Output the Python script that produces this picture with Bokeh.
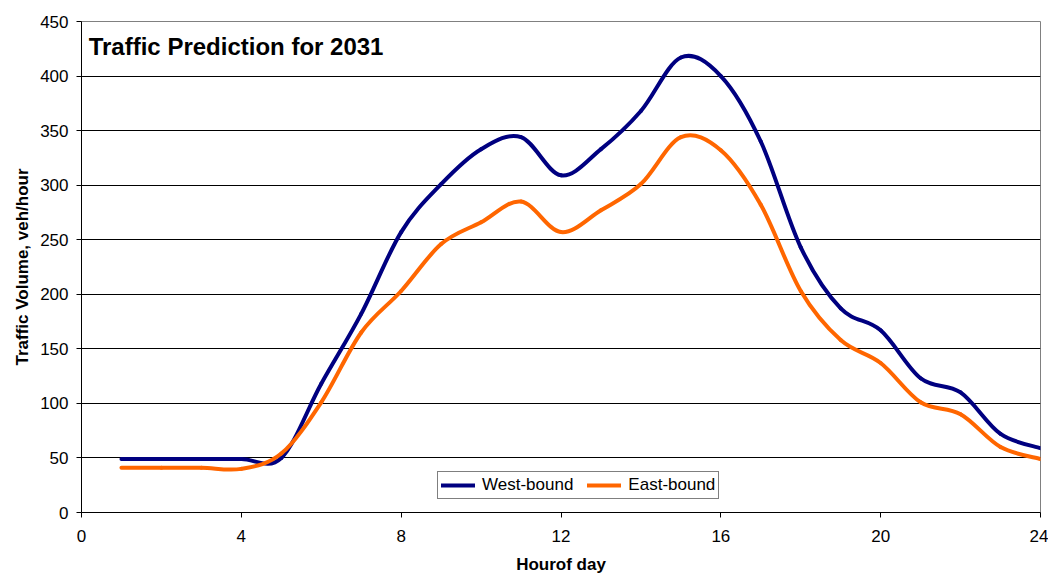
from bokeh.plotting import figure
from bokeh.models import Range1d, FixedTicker, Legend, LegendItem, Label, ColumnDataSource
from bokeh.embed import file_html
from bokeh.resources import INLINE

hours = list(range(1, 25))
west = [49, 49, 49, 49, 50, 118, 182, 257, 301, 333, 344, 309,
        333, 368, 417, 400, 340, 243, 187, 167, 123, 110, 72, 59]
east = [41, 41, 41, 40, 54, 101, 165, 203, 246, 266, 285, 257,
        277, 301, 344, 332, 282, 203, 158, 137, 101, 90, 60, 49]
x_ticks = [0, 4, 8, 12, 16, 20, 24]
y_ticks = [0, 50, 100, 150, 200, 250, 300, 350, 400, 450]
title_text = "Traffic Prediction for 2031"
x_label = "Hourof day"
y_label = "Traffic Volume, veh/hour"
series_names = ["West-bound", "East-bound"]
colors = ["#000080", "#FF6600"]

FONT = "Liberation Sans"


def smooth_segments(xs, ys):
    # Excel-style smoothed line: cubic Bezier segments with Catmull-Rom tangents
    n = len(xs)
    d = dict(x0=[], y0=[], x1=[], y1=[], cx0=[], cy0=[], cx1=[], cy1=[])
    for i in range(n - 1):
        a = i - 1 if i > 0 else i
        b = i + 2 if i + 2 < n else i + 1
        d["x0"].append(xs[i]); d["y0"].append(ys[i])
        d["x1"].append(xs[i + 1]); d["y1"].append(ys[i + 1])
        d["cx0"].append(xs[i] + (xs[i + 1] - xs[a]) / 6.0)
        d["cy0"].append(ys[i] + (ys[i + 1] - ys[a]) / 6.0)
        d["cx1"].append(xs[i + 1] - (xs[b] - xs[i]) / 6.0)
        d["cy1"].append(ys[i + 1] - (ys[b] - ys[i]) / 6.0)
    return ColumnDataSource(d)


p = figure(width=1048, height=577, output_backend="svg", toolbar_location=None,
           x_range=Range1d(0, 24), y_range=Range1d(0, 450),
           min_border_left=81, min_border_right=8, min_border_top=21, min_border_bottom=65)
p.background_fill_color = "white"
p.border_fill_color = "white"
p.outline_line_color = "#808080"
p.outline_line_width = 1

p.xgrid.grid_line_color = None
p.ygrid.grid_line_color = "#000000"
p.ygrid.grid_line_width = 1

p.xaxis.ticker = FixedTicker(ticks=x_ticks)
p.yaxis.ticker = FixedTicker(ticks=y_ticks)
for ax in (p.xaxis[0], p.yaxis[0]):
    ax.axis_line_color = "black"
    ax.major_tick_line_color = "black"
    ax.major_tick_out = 5
    ax.major_tick_in = 0
    ax.minor_tick_line_color = None
    ax.major_label_text_font = FONT
    ax.major_label_text_font_size = "17px"
    ax.major_label_text_color = "black"
    ax.axis_label_text_font = FONT
    ax.axis_label_text_font_size = "17px"
    ax.axis_label_text_font_style = "bold"
    ax.axis_label_text_color = "black"
p.xaxis.axis_label = x_label
p.yaxis.axis_label = y_label
p.xaxis.major_label_standoff = 12
p.yaxis.major_label_standoff = 8
p.xaxis.axis_label_standoff = 10
p.yaxis.axis_label_standoff = 5

renderers = []
for ys, c in zip([west, east], colors):
    src = smooth_segments(hours, ys)
    r = p.bezier(x0="x0", y0="y0", x1="x1", y1="y1", cx0="cx0", cy0="cy0",
                 cx1="cx1", cy1="cy1", source=src, line_color=c, line_width=4,
                 line_cap="round")
    renderers.append(r)

legend = Legend(items=[LegendItem(label=n, renderers=[r], index=0)
                       for n, r in zip(series_names, renderers)],
                orientation="horizontal", location=(356, 13),
                label_text_font=FONT, label_text_font_size="17px",
                label_text_color="black",
                border_line_color="black", border_line_width=1,
                background_fill_color="white", background_fill_alpha=1,
                glyph_width=34, glyph_height=16, label_standoff=7,
                spacing=14, padding=3, margin=0, label_height=16)
p.add_layout(legend, "center")

title = Label(x=0.18, y=427, text=title_text, text_font=FONT,
              text_font_size="24px", text_font_style="bold",
              text_color="black", text_baseline="middle", text_align="left")
p.add_layout(title)

open("out.html", "w").write(file_html(p, INLINE))
